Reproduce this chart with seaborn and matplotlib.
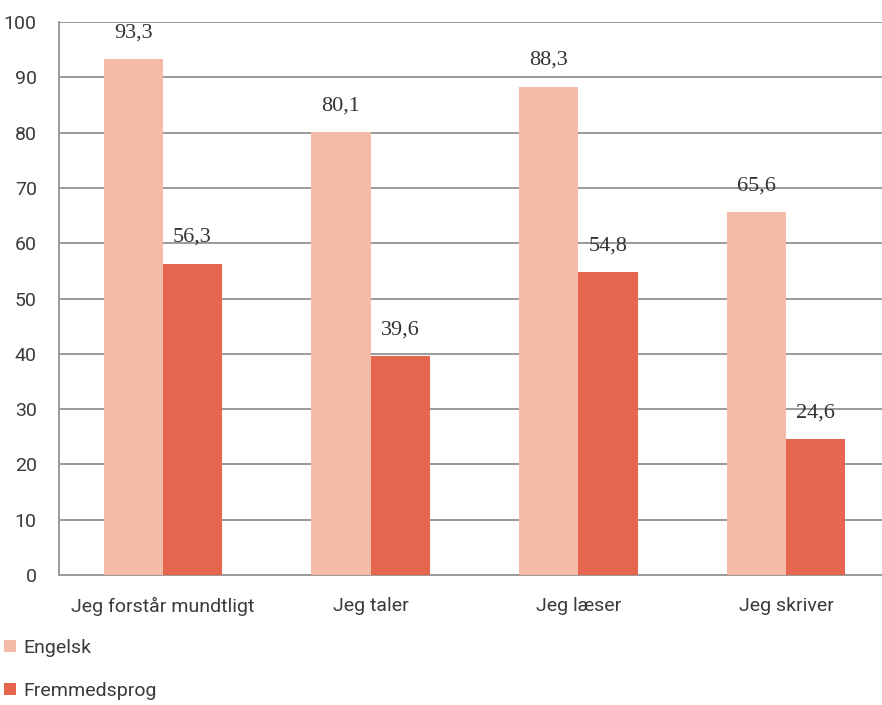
import matplotlib
matplotlib.use("Agg")
import matplotlib.pyplot as plt
import seaborn as sns
import pandas as pd
from matplotlib.patches import Patch

categories = ["Jeg forstår mundtligt", "Jeg taler", "Jeg læser", "Jeg skriver"]
engelsk = [93.3, 80.1, 88.3, 65.6]
fremmedsprog = [56.3, 39.6, 54.8, 24.6]
series_names = ["Engelsk", "Fremmedsprog"]
yticks = [0, 10, 20, 30, 40, 50, 60, 70, 80, 90, 100]

colors = ["#F4BBA7", "#E6654E"]

df = pd.DataFrame({
    "kategori": categories * 2,
    "serie": [series_names[0]] * 4 + [series_names[1]] * 4,
    "værdi": engelsk + fremmedsprog,
})

sns.set_style("white")
narrow = ["Roboto", "DejaVu Sans"]
plt.rcParams["font.family"] = narrow

fig = plt.figure(figsize=(8.82, 7.05), dpi=100)
W, H = 882, 705
ax = fig.add_axes([59 / W, 130 / H, 831 / W, 553 / H])

sns.barplot(data=df, x="kategori", y="værdi", hue="serie", order=categories,
            hue_order=series_names, palette=colors, width=0.57, saturation=1,
            ax=ax, legend=False, zorder=3, linewidth=0, edgecolor="none")

ax.set_ylim(0, 100)
ax.set_xlim(-0.5, 3.5)
ax.set_yticks(yticks)
ax.set_yticklabels([str(t) for t in yticks], fontsize=14, color="#3a3a3a")
ax.yaxis.grid(True, color="#9a9a9a", linewidth=1.4, zorder=0)
ax.set_axisbelow(True)
ax.set_xlabel("")
ax.set_ylabel("")
ax.tick_params(axis="x", length=0, labelsize=14, labelcolor="#3a3a3a", pad=16)
ax.tick_params(axis="y", length=6, width=1.2, color="#9a9a9a", direction="out", pad=10)

# category boundary ticks
ax.set_xticks([0.5, 1.5, 2.5], minor=True)
ax.tick_params(axis="x", which="minor", length=5, width=1.2, color="#9a9a9a", direction="out")

for s in ["top", "right"]:
    ax.spines[s].set_visible(False)
for s in ["left", "bottom"]:
    ax.spines[s].set_color("#9a9a9a")
    ax.spines[s].set_linewidth(1.4)

for container in ax.containers:
    labels = [f"{v:.1f}".replace(".", ",") for v in container.datavalues]
    ax.bar_label(container, labels=labels, padding=12, fontsize=16,
                 family=["Liberation Serif", "DejaVu Serif"], color="#333333")

handles = [Patch(facecolor=c, edgecolor="none") for c in colors]
fig.legend(handles, series_names, loc="upper left", bbox_to_anchor=(0.0, 1 - 635 / H),
           frameon=False, fontsize=14, handlelength=0.6, handleheight=0.6,
           handletextpad=0.4, labelspacing=1.3, borderaxespad=0, borderpad=0.2,
           labelcolor="#3a3a3a")

fig.savefig("out.png", dpi=100)
